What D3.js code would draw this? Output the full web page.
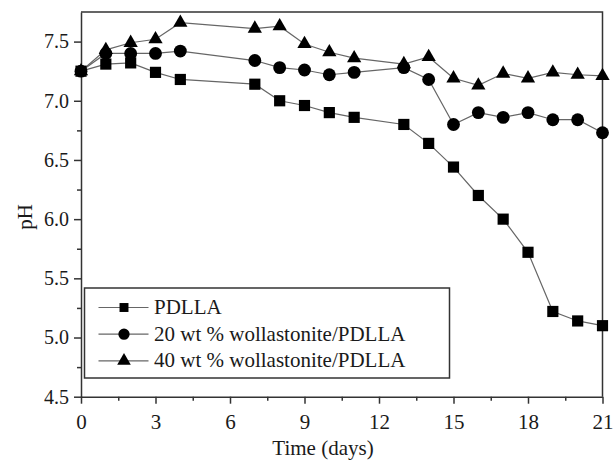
<!DOCTYPE html>
<html>
<head>
<meta charset="utf-8">
<script src="https://cdn.jsdelivr.net/npm/d3@7"></script>
<style>
  body { margin: 0; background: #fff; }
  text { font-family: "Liberation Serif", "Times New Roman", serif; fill: #1a1a1a; }
</style>
</head>
<body>
<div id="chart"></div>
<script>
//chart size
const width = 616;
const height = 462;

//data (days, pH)
const days = [0, 1, 2, 3, 4, 7, 8, 9, 10, 11, 13, 14, 15, 16, 17, 18, 19, 20, 21];
const pdlla = [7.25, 7.31, 7.32, 7.24, 7.18, 7.14, 7.00, 6.96, 6.90, 6.86, 6.80, 6.64, 6.44, 6.20, 6.00, 5.72, 5.22, 5.14, 5.10];
const wol20 = [7.25, 7.40, 7.40, 7.40, 7.42, 7.34, 7.28, 7.26, 7.22, 7.24, 7.28, 7.18, 6.80, 6.90, 6.86, 6.90, 6.84, 6.84, 6.73];
const wol40 = [7.25, 7.43, 7.49, 7.52, 7.66, 7.61, 7.63, 7.48, 7.41, 7.36, 7.31, 7.37, 7.19, 7.13, 7.23, 7.19, 7.24, 7.22, 7.21];

const seriesNames = ["PDLLA", "20 wt % wollastonite/PDLLA", "40 wt % wollastonite/PDLLA"];
const xTicks = [0, 3, 6, 9, 12, 15, 18, 21];
const xMinor = [1.5, 4.5, 7.5, 10.5, 13.5, 16.5, 19.5];
const yTicks = [4.5, 5.0, 5.5, 6.0, 6.5, 7.0, 7.5];
const yMinor = [4.75, 5.25, 5.75, 6.25, 6.75, 7.25];

const series = [
  { name: seriesNames[0], values: pdlla, shape: d3.symbolSquare, size: 125 },
  { name: seriesNames[1], values: wol20, shape: d3.symbolCircle, size: 130 },
  { name: seriesNames[2], values: wol40, shape: d3.symbolTriangle, size: 88 },
];

//plot area
const plotLeft = 81, plotRight = 602.5, plotTop = 12, plotBottom = 396.7;

const svg = d3.select("#chart").append("svg")
  .attr("width", width)
  .attr("height", height);

const x = d3.scaleLinear().domain([0, 21]).range([plotLeft, plotRight]);
const y = d3.scaleLinear().domain([4.5, 7.75]).range([plotBottom, plotTop]);

//frame (top and right)
svg.append("path")
  .attr("d", `M${plotLeft},${plotTop}H${plotRight}V${plotBottom}`)
  .attr("fill", "none")
  .attr("stroke", "#333")
  .attr("stroke-width", 1.5);

//minor ticks
svg.append("g")
  .attr("transform", `translate(0,${plotBottom})`)
  .call(d3.axisBottom(x).tickValues(xMinor).tickSize(4).tickSizeOuter(0).tickFormat(""))
  .call(g => g.select(".domain").remove());
svg.append("g")
  .attr("transform", `translate(${plotLeft},0)`)
  .call(d3.axisLeft(y).tickValues(yMinor).tickSize(4).tickSizeOuter(0).tickFormat(""))
  .call(g => g.select(".domain").remove());

//x axis
const xAxis = svg.append("g")
  .attr("transform", `translate(0,${plotBottom})`)
  .call(d3.axisBottom(x).tickValues(xTicks).tickSize(7).tickSizeOuter(0).tickPadding(10).tickFormat(d3.format("d")));
xAxis.selectAll("text").attr("font-size", "21px").attr("fill", "#1a1a1a");

//y axis
const yAxis = svg.append("g")
  .attr("transform", `translate(${plotLeft},0)`)
  .call(d3.axisLeft(y).tickValues(yTicks).tickSize(7).tickSizeOuter(0).tickPadding(5).tickFormat(d3.format(".1f")));
yAxis.selectAll("text").attr("font-size", "20px").attr("fill", "#1a1a1a");

svg.selectAll(".domain, .tick line").attr("stroke", "#333").attr("stroke-width", 1.5);

//lines and markers
const line = d3.line()
  .x((d, i) => x(days[i]))
  .y(d => y(d));

series.forEach(s => {
  svg.append("path")
    .datum(s.values)
    .attr("d", line)
    .attr("fill", "none")
    .attr("stroke", "#666")
    .attr("stroke-width", 1.2);
});

series.forEach(s => {
  svg.append("g")
    .selectAll("path")
    .data(s.values)
    .enter()
    .append("path")
    .attr("d", d3.symbol().type(s.shape).size(s.size))
    .attr("transform", (d, i) => `translate(${x(days[i])},${y(d)})`)
    .attr("fill", "#000");
});

//legend
const legend = svg.append("g");
legend.append("rect")
  .attr("x", 84.5).attr("y", 288)
  .attr("width", 365).attr("height", 90)
  .attr("fill", "#fff")
  .attr("stroke", "#333")
  .attr("stroke-width", 1.5);

const legendSizes = [80, 100, 80];
series.forEach((s, i) => {
  const ly = 307.5 + i * 26.7;
  legend.append("line")
    .attr("x1", 98.5).attr("x2", 148.5)
    .attr("y1", ly).attr("y2", ly)
    .attr("stroke", "#666").attr("stroke-width", 1.2);
  legend.append("path")
    .attr("d", d3.symbol().type(s.shape).size(legendSizes[i]))
    .attr("transform", `translate(124,${ly})`)
    .attr("fill", "#000");
  legend.append("text")
    .attr("x", 154).attr("y", ly + 6.5)
    .attr("font-size", "21px")
    .text(s.name);
});

//axis titles
svg.append("text")
  .attr("x", 323).attr("y", 455)
  .attr("text-anchor", "middle")
  .attr("font-size", "21px")
  .text("Time (days)");

svg.append("text")
  .attr("transform", "translate(32,217) rotate(-90)")
  .attr("text-anchor", "middle")
  .attr("font-size", "21px")
  .text("pH");
</script>
</body>
</html>
